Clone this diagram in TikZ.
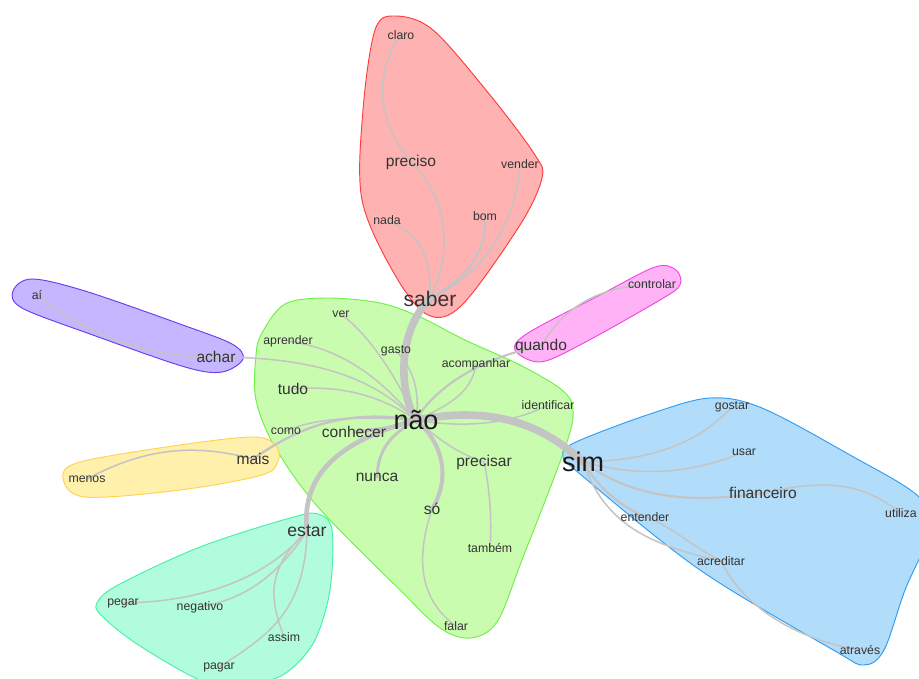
\documentclass[tikz,border=0pt]{standalone}
\usepackage{fontspec}
\setmainfont{Liberation Sans}
\usepackage{tikz}
\usetikzlibrary{calc}

\definecolor{edgegray}{RGB}{196,196,196}
\definecolor{redfill}{RGB}{255,178,178}   \definecolor{redline}{RGB}{255,60,60}
\definecolor{greenfill}{RGB}{202,252,176} \definecolor{greenline}{RGB}{110,240,70}
\definecolor{bluefill}{RGB}{178,221,250}  \definecolor{blueline}{RGB}{50,155,240}
\definecolor{violetfill}{RGB}{196,182,255}\definecolor{violetline}{RGB}{105,60,240}
\definecolor{yellowfill}{RGB}{255,240,172}\definecolor{yellowline}{RGB}{255,210,80}
\definecolor{pinkfill}{RGB}{255,178,245}  \definecolor{pinkline}{RGB}{240,70,225}
\definecolor{mintfill}{RGB}{176,252,220}  \definecolor{mintline}{RGB}{70,240,170}

\pgfdeclarelayer{hulls}
\pgfdeclarelayer{edges}
\pgfsetlayers{hulls,edges,main}

% one coloured community: outline colour, fill colour, outline points
\newcommand{\wordhull}[3]{%
    \begin{pgfonlayer}{hulls}
        \draw[draw=#1, fill=#2, line width=0.8pt] plot[smooth cycle, tension=0.55] coordinates {#3};
    \end{pgfonlayer}
}

\begin{document}
\begin{tikzpicture}[
        x=0.03cm, y=-0.03cm,
        word/.style={inner sep=0pt, text=black!80},
        small_word/.style={word, font=\fontsize{10.5}{12}\selectfont},
        mid_word/.style={word, font=\fontsize{13.3}{15}\selectfont},
        big_word/.style={word, text=black!90, font=\fontsize{23}{26}\selectfont},
        edge_style/.style={draw=edgegray, line width=1.3pt, line cap=round}
    ]
    \useasboundingbox (0,0) rectangle (919,679);
    \clip (0,0) rectangle (919,679);

    % =========================================================================
    % 1. COMMUNITY HULLS
    % =========================================================================
    \wordhull{redline}{redfill}{(375,30) (395,16) (433,30) (490,95) (535,155) (542,178) (520,225) (462,305) (428,315) (395,275) (362,200) (363,110)}
    \wordhull{greenline}{greenfill}{(262,333) (285,304) (327,298) (380,303) (420,317) (465,340) (520,365) (562,390) (573,410) (565,448) (522,560) (497,622) (470,638) (440,628) (400,590) (318,507) (275,447) (256,400) (256,355)}
    \wordhull{violetline}{violetfill}{(13,291) (32,279) (85,291) (180,324) (232,344) (243,359) (222,372) (185,367) (90,334) (22,308)}
    \wordhull{yellowline}{yellowfill}{(63,478) (80,462) (180,445) (254,437) (276,446) (278,461) (262,475) (180,490) (85,497)}
    \wordhull{pinkline}{pinkfill}{(515,350) (528,333) (600,295) (655,267) (676,270) (680,285) (660,300) (580,345) (540,362)}
    \wordhull{blueline}{bluefill}{(563,455) (576,442) (650,414) (710,398) (762,408) (850,455) (918,496) (930,530) (905,590) (884,650) (864,665) (835,651) (700,570) (580,474)}
    \wordhull{mintline}{mintfill}{(97,603) (118,585) (200,547) (290,518) (318,514) (332,530) (330,590) (315,640) (290,670) (262,682) (210,684) (140,646) (102,616)}

    % =========================================================================
    % 2. WORDS
    % =========================================================================
    % centre word and its neighbours
    \node[big_word] (nao) at (416,420) {não};
    \node[big_word] (sim) at (583,462) {sim};
    \node[word, font=\fontsize{18}{20}\selectfont] (saber) at (430,299) {saber};
    \node[word, font=\fontsize{15}{17}\selectfont] (estar) at (307,531) {estar};
    \node[mid_word] (achar) at (216,357) {achar};
    \node[mid_word] (mais) at (253,459) {mais};
    \node[mid_word] (quando) at (541,346) {quando};
    \node[mid_word] (tudo) at (293,389) {tudo};
    \node[mid_word] (conhecer) at (354,432) {conhecer};
    \node[mid_word] (nunca) at (377,477) {nunca};
    \node[mid_word] (precisar) at (484,462) {precisar};
    \node[mid_word] (so) at (432,509) {só};
    \node[small_word] (ver) at (341,314) {ver};
    \node[small_word] (aprender) at (288,341) {aprender};
    \node[small_word] (gasto) at (396,351) {gasto};
    \node[small_word] (acompanhar) at (476,364) {acompanhar};
    \node[small_word] (identificar) at (548,405) {identificar};
    \node[small_word] (como) at (286,431) {como};
    \node[small_word] (tambem) at (490,548) {também};
    \node[small_word] (falar) at (456,626) {falar};

    % saber
    \node[small_word] (claro) at (401,35) {claro};
    \node[mid_word] (preciso) at (411,162) {preciso};
    \node[small_word] (vender) at (520,164) {vender};
    \node[small_word] (nada) at (387,220) {nada};
    \node[small_word] (bom) at (485,216) {bom};

    % achar, mais, quando
    \node[small_word] (ai) at (37,295) {aí};
    \node[small_word] (menos) at (87,479) {menos};
    \node[small_word] (controlar) at (652,284) {controlar};

    % sim
    \node[small_word] (gostar) at (732,407) {gostar};
    \node[small_word] (usar) at (744,452) {usar};
    \node[mid_word] (financeiro) at (763,493) {financeiro};
    \node[small_word, anchor=west] (utiliza) at (885,513) {utiliza};
    \node[small_word] (entender) at (645,517) {entender};
    \node[small_word] (acreditar) at (721,561) {acreditar};
    \node[small_word] (atraves) at (860,650) {através};

    % estar
    \node[small_word] (pegar) at (123,603) {pegar};
    \node[small_word] (negativo) at (200,607) {negativo};
    \node[small_word] (assim) at (284,637) {assim};
    \node[small_word] (pagar) at (219,667) {pagar};

    % =========================================================================
    % 3. EDGES
    % =========================================================================
    \begin{pgfonlayer}{edges}
    % strong links of não
    \draw[edge_style, line width=6.5pt] (nao.center) .. controls (398,390) and (398,330) .. (saber.center);
    \draw[edge_style, line width=6.5pt] (nao.center) .. controls (490,406) and (540,422) .. (sim.center);
    \draw[edge_style, line width=4pt] (nao.center) .. controls (350,438) and (300,468) .. (estar.center);
    \draw[edge_style, line width=3.5pt] (nao.center) .. controls (445,445) and (450,480) .. (so.center);
    \draw[edge_style, line width=3pt] (nao.center) .. controls (395,428) and (375,430) .. (conhecer.center);
    \draw[edge_style, line width=2.5pt] (nao.center) .. controls (390,435) and (378,450) .. (nunca.center);
    \draw[edge_style, line width=2pt] (nao.center) .. controls (340,408) and (295,430) .. (mais.center);

    % weaker links of não
    \draw[edge_style] (nao.center) .. controls (380,395) and (340,385) .. (tudo.center);
    \draw[edge_style] (nao.center) .. controls (385,385) and (350,350) .. (aprender.center);
    \draw[edge_style] (nao.center) .. controls (380,385) and (330,357) .. (achar.center);
    \draw[edge_style] (nao.center) .. controls (400,385) and (375,340) .. (ver.center);
    \draw[edge_style] (nao.center) .. controls (420,395) and (415,370) .. (gasto.center);
    \draw[edge_style] (nao.center) .. controls (450,405) and (472,392) .. (acompanhar.center);
    \draw[edge_style, line width=1.8pt] (nao.center) .. controls (430,395) and (470,360) .. (quando.center);
    \draw[edge_style] (nao.center) .. controls (460,428) and (510,425) .. (identificar.center);
    \draw[edge_style] (nao.center) .. controls (350,415) and (310,420) .. (como.center);
    \draw[edge_style] (nao.center) .. controls (440,440) and (455,452) .. (precisar.center);
    \draw[edge_style] (precisar.center) .. controls (490,490) and (492,520) .. (tambem.center);
    \draw[edge_style] (so.center) .. controls (415,560) and (420,600) .. (falar.center);

    % saber
    \draw[edge_style] (saber.center) .. controls (452,255) and (450,200) .. (preciso.center);
    \draw[edge_style] (preciso.center) .. controls (375,120) and (375,70) .. (claro.center);
    \draw[edge_style] (saber.center) .. controls (432,255) and (420,235) .. (nada.center);
    \draw[edge_style, line width=1.8pt] (saber.center) .. controls (460,280) and (487,260) .. (bom.center);
    \draw[edge_style] (saber.center) .. controls (480,275) and (515,230) .. (vender.center);

    % achar, mais, quando
    \draw[edge_style] (achar.center) .. controls (150,357) and (95,340) .. (ai.center);
    \draw[edge_style] (mais.center) .. controls (200,445) and (150,445) .. (menos.center);
    \draw[edge_style] (quando.center) .. controls (565,305) and (600,287) .. (controlar.center);

    % sim
    \draw[edge_style] (sim.center) .. controls (660,460) and (700,440) .. (gostar.center);
    \draw[edge_style] (sim.center) .. controls (650,480) and (700,470) .. (usar.center);
    \draw[edge_style, line width=1.8pt] (sim.center) .. controls (630,495) and (680,505) .. (financeiro.center);
    \draw[edge_style] (financeiro.center) .. controls (840,475) and (870,490) .. (utiliza.center);
    \draw[edge_style, line width=1.8pt] (sim.center) .. controls (600,490) and (620,505) .. (entender.center);
    \draw[edge_style] (sim.center) .. controls (605,525) and (650,545) .. (acreditar.center);
    \draw[edge_style] (entender.center) .. controls (670,525) and (690,545) .. (acreditar.center);
    \draw[edge_style] (acreditar.center) .. controls (745,610) and (800,640) .. (atraves.center);

    % estar
    \draw[edge_style] (estar.center) .. controls (260,585) and (190,602) .. (pegar.center);
    \draw[edge_style] (estar.center) .. controls (275,580) and (240,600) .. (negativo.center);
    \draw[edge_style] (estar.center) .. controls (265,570) and (270,600) .. (assim.center);
    \draw[edge_style] (estar.center) .. controls (305,610) and (270,635) .. (pagar.center);
    \end{pgfonlayer}

\end{tikzpicture}
\end{document}
